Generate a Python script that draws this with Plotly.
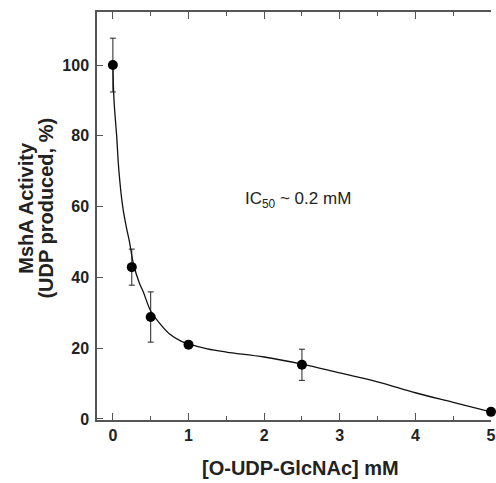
import plotly.graph_objects as go

# Measured data points
conc = [0, 0.25, 0.5, 1, 2.5, 5]
activity = [100, 42.9, 28.8, 21, 15.3, 2]
activity_err = [7.6, 5.1, 7.1, 0, 4.4, 0]

# Fitted curve
fit_x = [0, 0.015, 0.05, 0.08, 0.13, 0.18, 0.22, 0.27, 0.35, 0.4, 0.5, 0.6,
         0.75, 0.9, 1.0, 1.25, 1.5, 2.0, 2.5, 3.0, 3.5, 4.0, 4.5, 5.0]
fit_y = [100, 90, 80, 70, 60, 54, 50, 44, 38.4, 36, 30.5, 27.5,
         24, 22, 21.2, 19.8, 18.9, 17.5, 15.5, 13, 10.5, 7.4, 4.7, 2]

x_ticks = [0, 1, 2, 3, 4, 5]
y_ticks = [0, 20, 40, 60, 80, 100]

FONT = "Liberation Sans, Arial, sans-serif"
AX = "#555555"

fig = go.Figure()
fig.add_trace(go.Scatter(
    x=fit_x, y=fit_y, mode="lines", line=dict(color="#111111", width=1.3, shape="spline"),
    hoverinfo="skip", showlegend=False))
fig.add_trace(go.Scatter(
    x=conc, y=activity, mode="markers", cliponaxis=False,
    marker=dict(color="black", size=10),
    error_y=dict(type="data", array=activity_err, color="#222222", thickness=1, width=3),
    showlegend=False))

fig.add_annotation(x=1.72, y=62, xref="x", yref="y", xanchor="left", yanchor="middle",
                   text="IC<sub>50</sub> ~ 0.2 mM", showarrow=False,
                   font=dict(family=FONT, size=17, color="#222222"))

fig.add_annotation(x=2.48, y=-0.1176, xref="x", yref="paper", xanchor="center", yanchor="middle",
                   text="<b>[O-UDP-GlcNAc] mM</b>", showarrow=False,
                   font=dict(family=FONT, size=20, color="#222222"))
fig.add_annotation(x=-0.1805, y=0.52, xref="paper", yref="paper", xanchor="center", yanchor="middle",
                   text="<b>MshA Activity</b>", textangle=-90, showarrow=False,
                   font=dict(family=FONT, size=20, color="#222222"))
fig.add_annotation(x=-0.130, y=0.52, xref="paper", yref="paper", xanchor="center", yanchor="middle",
                   text="<b>(UDP produced, %)</b>", textangle=-90, showarrow=False,
                   font=dict(family=FONT, size=20, color="#222222"))

fig.update_layout(
    width=496, height=483,
    margin=dict(l=97, r=0, t=12, b=63),
    paper_bgcolor="white", plot_bgcolor="white",
    font=dict(family=FONT, color="#222222"),
)
fig.update_xaxes(
    range=[-0.21, 5.0], tickvals=x_ticks, ticktext=[str(v) for v in x_ticks],
    showline=True, linecolor=AX, linewidth=1.5, mirror="allticks",
    ticks="inside", ticklen=7, tickwidth=1.3, tickcolor=AX,
    minor=dict(dtick=0.5, tick0=0, ticks="inside", ticklen=4, tickwidth=1.3, tickcolor=AX),
    ticklabeloverflow="allow",
    showgrid=False, zeroline=False,
    tickfont=dict(family=FONT, size=16, color="#222222", weight="bold"),
)
fig.update_yaxes(
    range=[-0.3, 115], tickvals=y_ticks, ticktext=[str(v) for v in y_ticks],
    showline=True, linecolor=AX, linewidth=1.5, mirror=False,
    ticks="inside", ticklen=6, tickwidth=1.3, tickcolor=AX,
    ticklabelstandoff=3,
    showgrid=False, zeroline=False,
    tickfont=dict(family=FONT, size=16, color="#222222", weight="bold"),
)

fig.write_html("out.html", config={"displayModeBar": False},
               post_script="document.body.style.margin='0px';document.body.style.overflow='hidden';")
